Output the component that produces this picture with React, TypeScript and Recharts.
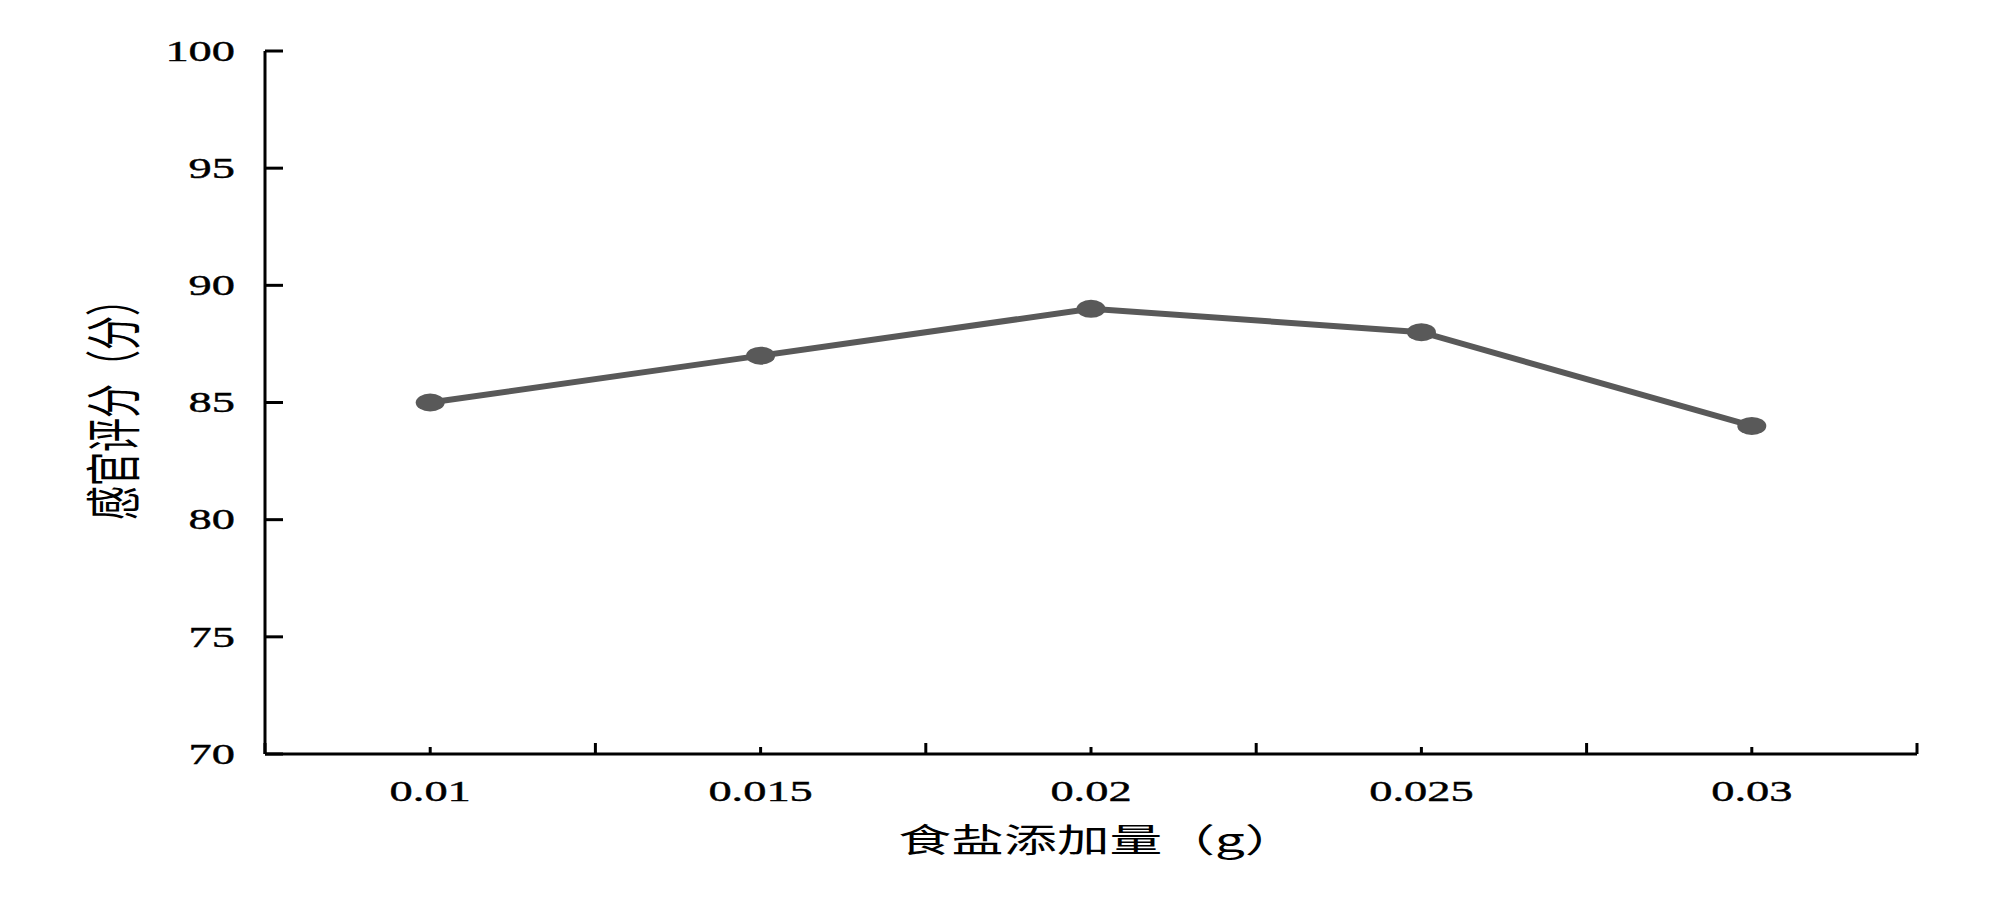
import { LineChart, Line, XAxis, YAxis } from "recharts";

const saltAmounts = [0.01, 0.015, 0.02, 0.025, 0.03];
const scores = [85, 87, 89, 88, 84];
const xLabels = ["0.01", "0.015", "0.02", "0.025", "0.03"];
const xBoundaries = [0.0075, 0.0125, 0.0175, 0.0225, 0.0275, 0.0325];
const yTicks = [70, 75, 80, 85, 90, 95, 100];

const data = saltAmounts.map((x, i) => ({ x, score: scores[i] }));
const xTicks = [...xBoundaries, ...saltAmounts].sort((a, b) => a - b);

const FONT = "'Liberation Serif', 'Noto Sans CJK SC', serif";
const CJK = "'Noto Sans CJK SC', 'Liberation Serif', serif";
const STRETCH = 1.6;

function YTick(props: any) {
  const { x, y, payload } = props;
  return (
    <g>
      <line x1={x} y1={y} x2={x + 18} y2={y} stroke="#000" strokeWidth={3} />
      <text
        transform={`translate(${x - 30},${y}) scale(${STRETCH},1)`}
        textAnchor="end"
        dominantBaseline="central"
        fontFamily={FONT}
        fontSize={29}
        fill="#000"
        stroke="#000"
        strokeWidth={0.4}
      >
        {payload.value}
      </text>
    </g>
  );
}

function XTick(props: any) {
  const { x, y, payload } = props;
  const idx = saltAmounts.indexOf(payload.value);
  if (idx < 0) {
    return <line x1={x} y1={y} x2={x} y2={y - 11} stroke="#000" strokeWidth={3} />;
  }
  return (
    <g>
      <line x1={x} y1={y} x2={x} y2={y - 7} stroke="#000" strokeWidth={3} />
      <text
        transform={`translate(${x},${y + 47}) scale(${STRETCH},1)`}
        textAnchor="middle"
        fontFamily={FONT}
        fontSize={29}
        fill="#000"
        stroke="#000"
        strokeWidth={0.4}
      >
        {xLabels[idx]}
      </text>
    </g>
  );
}

function Dot(props: any) {
  const { cx, cy } = props;
  if (cx == null || cy == null) return null;
  return <ellipse cx={cx} cy={cy} rx={14.5} ry={9} fill="#595959" />;
}

export default function App() {
  return (
    <div style={{ position: "absolute", left: 0, top: 0, width: 2000, height: 915, background: "#fff" }}>
      <LineChart
        width={2000}
        height={915}
        data={data}
        margin={{ top: 51, right: 83, bottom: 61, left: 0 }}
      >
        <XAxis
          dataKey="x"
          type="number"
          domain={[0.0075, 0.0325]}
          ticks={xTicks}
          interval={0}
          tick={<XTick />}
          tickLine={false}
          tickSize={0}
          tickMargin={0}
          height={100}
          axisLine={{ stroke: "#000", strokeWidth: 3 }}
        />
        <YAxis
          type="number"
          domain={[70, 100]}
          ticks={yTicks}
          interval={0}
          tick={<YTick />}
          tickLine={false}
          tickSize={0}
          tickMargin={0}
          width={265}
          axisLine={{ stroke: "#000", strokeWidth: 3 }}
        />
        <Line
          dataKey="score"
          stroke="#595959"
          strokeWidth={6}
          dot={<Dot />}
          activeDot={false}
          isAnimationActive={false}
        />
        <text
          transform={`translate(1098,852) scale(1.6,1)`}
          textAnchor="middle"
          fontFamily={CJK}
          fontSize={33}
          fill="#000"
        >
          食盐添加量（g）
        </text>
        <text
          transform={`translate(134,401) scale(1.65,1) rotate(-90)`}
          textAnchor="middle"
          fontFamily={CJK}
          fontSize={34}
          fill="#000"
        >
          感官评分（分）
        </text>
      </LineChart>
    </div>
  );
}
